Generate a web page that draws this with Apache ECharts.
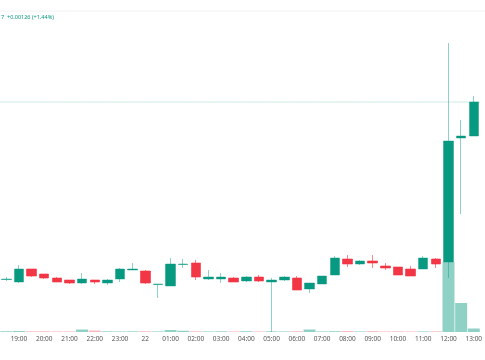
<!DOCTYPE html>
<html>
<head>
<meta charset="utf-8">
<script src="https://cdn.jsdelivr.net/npm/echarts@6/dist/echarts.min.js"></script>
<style>
html,body{margin:0;padding:0;background:#fff;}
#c{width:485px;height:360px;}
</style>
</head>
<body>
<div id="c"></div>
<script>
var times = ["18:30","19:00","19:30","20:00","20:30","21:00","21:30","22:00","22:30","23:00","23:30","00:00","00:30","01:00","01:30","02:00","02:30","03:00","03:30","04:00","04:30","05:00","05:30","06:00","06:30","07:00","07:30","08:00","08:30","09:00","09:30","10:00","10:30","11:00","11:30","12:00","12:30","13:00"];
var opens  = [0.086525,0.08650,0.08663,0.08658,0.08654,0.08652,0.08649,0.08652,0.08649,0.08653,0.08662,0.08661,0.086475,0.08646,0.086675,0.08669,0.08653,0.08653,0.08654,0.08651,0.08655,0.08650,0.08652,0.08654,0.08643,0.08648,0.08657,0.08673,0.08668,0.08671,0.08666,0.08665,0.08663,0.08663,0.08673,0.08670,0.08794,0.08796];
var closes = [0.08653,0.08663,0.08656,0.08654,0.08650,0.08649,0.08653,0.08650,0.08652,0.08663,0.08663,0.08649,0.08648,0.08668,0.08668,0.08655,0.08655,0.08655,0.08650,0.08655,0.08651,0.08652,0.08655,0.08642,0.08649,0.08656,0.08674,0.08668,0.08671,0.08669,0.08664,0.08657,0.08656,0.08674,0.08668,0.08791,0.08796,0.08830];
var lows   = [0.08651,0.08649,0.08655,0.08653,0.08650,0.08648,0.08648,0.08648,0.08647,0.08650,0.08662,0.08648,0.08634,0.08646,0.08664,0.08652,0.08652,0.08649,0.08650,0.08650,0.08650,0.08600,0.08651,0.08642,0.08639,0.08648,0.08657,0.08665,0.08667,0.08664,0.08662,0.08657,0.08656,0.08663,0.08664,0.08654,0.08718,0.08796];
var highs  = [0.08655,0.08667,0.08663,0.08658,0.08655,0.08652,0.08659,0.08652,0.08653,0.08664,0.08669,0.08662,0.08648,0.08674,0.08673,0.08672,0.08662,0.08659,0.08655,0.08656,0.08657,0.08654,0.08656,0.08656,0.08649,0.08656,0.08676,0.08677,0.08672,0.08677,0.08669,0.08665,0.08666,0.08676,0.08674,0.08889,0.08812,0.08836];
var volumes = [8,10,7,8,6,6,25,15,7,6,7,8,6,20,12,7,6,7,6,8,6,7,6,8,25,6,8,10,6,9,6,7,6,6,7,700,290,35];
var lastPrice = 0.08830;
var headerText = "7  +0.00126 (+1.44%)";

var UP = '#089981', DOWN = '#F23645';
var UPW = 'rgba(8,153,129,0.45)', DOWNW = 'rgba(242,54,69,0.6)';
var UPV = 'rgba(8,153,129,0.45)', DOWNV = 'rgba(242,54,69,0.35)';

var ohlc = times.map(function(t,i){ return [opens[i], closes[i], lows[i], highs[i]]; });
var vol = volumes.map(function(v,i){
  return {value: v, itemStyle: {color: closes[i] >= opens[i] ? UPV : DOWNV}};
});
var lastLine = times.map(function(){ return lastPrice; });

var chart = echarts.init(document.getElementById('c'), null, {renderer:'canvas'});
chart.setOption({
  animation: false,
  backgroundColor: '#ffffff',
  grid: {left: -3.4, width: 486.4, top: 0, height: 332, containLabel: false},
  xAxis: [{
    type: 'category', data: times, boundaryGap: true,
    axisLine: {show: false}, axisTick: {show: false}, splitLine: {show: false},
    axisLabel: {
      interval: function(i, v){ return v.slice(3) === '00'; },
      formatter: function(v){ return v === '00:00' ? '22' : v; },
      fontSize: 6.5, color: '#555', margin: 4, fontFamily: 'Noto Sans'
    }
  }, {
    type: 'category', data: times, boundaryGap: false, show: false
  }],
  yAxis: [
    {type: 'value', min: 0.08600, max: 0.08932, show: false, scale: true},
    {type: 'value', min: 0, max: 3320, show: false}
  ],
  graphic: [
    {type: 'line', shape: {x1: 0, y1: 11, x2: 485, y2: 11}, style: {stroke: '#f2f2f2', lineWidth: 1}, silent: true},
    {type: 'text', left: 1, top: 14, style: {text: headerText, fontSize: 5.5, fill: UP, fontFamily: 'Noto Sans'}}
  ],
  series: [
    {
      type: 'line', data: lastLine, xAxisIndex: 1, yAxisIndex: 0, symbol: 'none', silent: true, z: 0,
      lineStyle: {color: '#cfe8e3', width: 1, type: 'solid'}
    },
    {
      type: 'bar', data: vol, xAxisIndex: 0, yAxisIndex: 1, barWidth: 12, z: 1, silent: true
    },
    {
      type: 'candlestick', data: ohlc, xAxisIndex: 0, yAxisIndex: 0, barWidth: 10, z: 3,
      itemStyle: {color: UP, color0: DOWN, borderColor: UPW, borderColor0: DOWNW, borderWidth: 1}
    }
  ]
});
</script>
</body>
</html>
